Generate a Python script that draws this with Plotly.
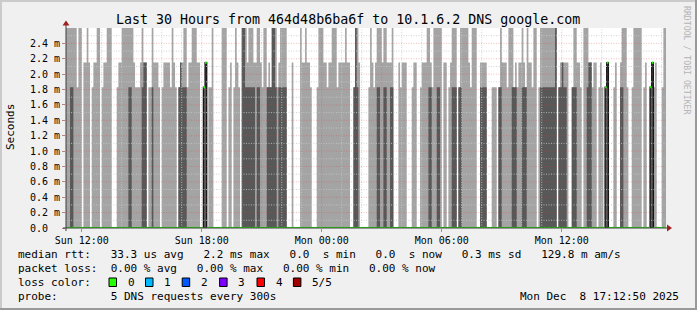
import plotly.graph_objects as go
from datetime import datetime, timedelta

# ---------------- data ----------------
title_text = "Last 30 Hours from 464d48b6ba6f to 10.1.6.2 DNS google.com"
view_start = "2025-12-07 11:12:50"
view_end = "2025-12-08 17:12:50"
first_step = "2025-12-07 11:10:00"
step_seconds = 300

# ping levels (ms) used by the codes below: 0 none, 1 ~1.83 ms, 2 ~2.15 ms, 3 off-scale
level_ms = [0.0, 1.83, 2.15, 2.9]

# highest ping per 5-minute step (outer smoke)
max_code = [
    3, 3, 3, 3, 3, 3, 3, 1, 3, 3, 0, 2, 2, 3, 2, 0, 1, 2, 2, 3,
    3, 0, 1, 2, 2, 3, 3, 3, 0, 0, 0, 1, 2, 2, 3, 3, 3, 3, 3, 3,
    3, 2, 1, 1, 1, 2, 3, 2, 2, 0, 1, 1, 3, 2, 2, 2, 1, 0, 1, 2,
    2, 2, 2, 1, 3, 2, 1, 0, 1, 2, 2, 3, 3, 1, 2, 2, 3, 3, 3, 2,
    2, 0, 0, 1, 2, 0, 1, 1, 3, 0, 0, 0, 0, 0, 3, 3, 3, 0, 1, 2,
    0, 1, 3, 2, 1, 0, 3, 3, 3, 2, 3, 3, 3, 2, 2, 3, 3, 2, 1, 3,
    3, 1, 2, 1, 3, 3, 3, 1, 2, 3, 3, 3, 3, 0, 0, 0, 2, 0, 0, 0,
    0, 3, 2, 2, 3, 2, 2, 1, 0, 0, 0, 1, 3, 3, 3, 2, 2, 1, 2, 2,
    3, 3, 3, 1, 2, 2, 2, 2, 3, 2, 2, 0, 0, 1, 3, 3, 2, 0, 0, 0,
    0, 0, 1, 3, 2, 1, 2, 3, 3, 3, 2, 3, 3, 2, 2, 2, 3, 0, 0, 0,
    2, 1, 2, 2, 2, 0, 0, 0, 1, 2, 2, 0, 0, 1, 2, 2, 2, 3, 3, 2,
    1, 3, 3, 3, 3, 3, 0, 2, 2, 0, 1, 2, 3, 3, 3, 0, 1, 3, 3, 3,
    3, 3, 2, 1, 3, 3, 3, 0, 0, 2, 2, 2, 2, 0, 0, 0, 1, 1, 1, 0,
    1, 3, 2, 2, 2, 1, 3, 3, 3, 1, 2, 1, 2, 2, 3, 2, 1, 3, 2, 2,
    1, 3, 3, 0, 1, 3, 3, 3, 3, 3, 3, 3, 3, 3, 3, 0, 1, 2, 2, 2,
    2, 2, 0, 0, 1, 3, 3, 2, 2, 1, 0, 3, 3, 3, 2, 2, 1, 2, 2, 0,
    1, 2, 1, 0, 1, 2, 0, 0, 0, 1, 2, 0, 0, 2, 3, 3, 3, 1, 0, 0,
    1, 3, 3, 3, 3, 3, 0, 1, 2, 0, 0, 1, 2, 1, 2, 0, 0, 0, 1, 3,
    3,
]

# 4th of 5 sorted pings per step (inner smoke)
p4_code = [
    0, 0, 0, 1, 1, 0, 0, 0, 0, 0, 0, 0, 0, 0, 0, 0, 0, 0, 0, 0,
    0, 0, 0, 0, 0, 0, 0, 0, 0, 0, 0, 0, 0, 0, 0, 0, 0, 0, 1, 1,
    0, 0, 0, 0, 0, 0, 1, 2, 2, 0, 0, 0, 1, 0, 0, 0, 0, 0, 0, 0,
    0, 0, 0, 0, 0, 0, 0, 0, 1, 2, 1, 1, 1, 0, 0, 0, 0, 0, 0, 0,
    0, 0, 0, 1, 2, 0, 0, 0, 0, 0, 0, 0, 0, 0, 0, 0, 0, 0, 0, 0,
    0, 0, 0, 0, 0, 0, 3, 3, 1, 1, 1, 1, 1, 1, 0, 1, 1, 0, 0, 0,
    0, 1, 1, 1, 3, 3, 1, 0, 1, 1, 1, 1, 1, 0, 0, 0, 0, 0, 0, 0,
    0, 0, 0, 0, 0, 0, 0, 0, 0, 0, 0, 0, 0, 0, 0, 0, 0, 0, 0, 0,
    0, 0, 0, 0, 0, 0, 0, 0, 0, 0, 0, 0, 0, 1, 3, 1, 0, 0, 0, 0,
    0, 0, 0, 0, 0, 0, 0, 1, 1, 0, 0, 1, 1, 0, 0, 1, 1, 0, 0, 0,
    0, 0, 0, 0, 0, 0, 0, 0, 0, 0, 0, 0, 0, 0, 0, 0, 0, 0, 1, 1,
    0, 0, 0, 1, 1, 0, 0, 0, 0, 0, 0, 0, 1, 1, 1, 0, 1, 1, 0, 0,
    0, 0, 0, 0, 0, 0, 0, 0, 0, 1, 1, 1, 1, 0, 0, 0, 0, 0, 0, 0,
    1, 1, 0, 0, 0, 0, 0, 0, 1, 1, 1, 0, 0, 0, 1, 1, 1, 0, 0, 0,
    0, 0, 0, 0, 0, 1, 1, 1, 1, 1, 1, 1, 1, 1, 3, 0, 1, 1, 2, 1,
    1, 0, 0, 0, 1, 1, 1, 0, 0, 0, 0, 0, 0, 1, 2, 2, 0, 0, 0, 0,
    0, 0, 0, 0, 1, 2, 0, 0, 0, 0, 0, 0, 0, 1, 1, 0, 0, 0, 0, 0,
    0, 0, 0, 0, 0, 0, 0, 0, 0, 0, 0, 1, 2, 0, 0, 0, 0, 0, 0, 0,
    0,
]

# median ping per step
median_code = [
    0, 0, 0, 0, 0, 0, 0, 0, 0, 0, 0, 0, 0, 0, 0, 0, 0, 0, 0, 0,
    0, 0, 0, 0, 0, 0, 0, 0, 0, 0, 0, 0, 0, 0, 0, 0, 0, 0, 0, 0,
    0, 0, 0, 0, 0, 0, 0, 0, 0, 0, 0, 0, 0, 0, 0, 0, 0, 0, 0, 0,
    0, 0, 0, 0, 0, 0, 0, 0, 0, 0, 0, 0, 0, 0, 0, 0, 0, 0, 0, 0,
    0, 0, 0, 1, 2, 0, 0, 0, 0, 0, 0, 0, 0, 0, 0, 0, 0, 0, 0, 0,
    0, 0, 0, 0, 0, 0, 0, 0, 0, 0, 0, 0, 0, 0, 0, 0, 0, 0, 0, 0,
    0, 0, 0, 0, 0, 0, 0, 0, 0, 0, 0, 0, 0, 0, 0, 0, 0, 0, 0, 0,
    0, 0, 0, 0, 0, 0, 0, 0, 0, 0, 0, 0, 0, 0, 0, 0, 0, 0, 0, 0,
    0, 0, 0, 0, 0, 0, 0, 0, 0, 0, 0, 0, 0, 0, 0, 0, 0, 0, 0, 0,
    0, 0, 0, 0, 0, 0, 0, 0, 0, 0, 0, 0, 0, 0, 0, 0, 0, 0, 0, 0,
    0, 0, 0, 0, 0, 0, 0, 0, 0, 0, 0, 0, 0, 0, 0, 0, 0, 0, 0, 0,
    0, 0, 0, 0, 0, 0, 0, 0, 0, 0, 0, 0, 0, 0, 0, 0, 0, 0, 0, 0,
    0, 0, 0, 0, 0, 0, 0, 0, 0, 0, 0, 0, 0, 0, 0, 0, 0, 0, 0, 0,
    0, 0, 0, 0, 0, 0, 0, 0, 0, 0, 0, 0, 0, 0, 0, 0, 0, 0, 0, 0,
    0, 0, 0, 0, 0, 0, 0, 0, 0, 0, 0, 0, 0, 0, 0, 0, 0, 0, 0, 0,
    0, 0, 0, 0, 0, 0, 0, 0, 0, 0, 0, 0, 0, 0, 0, 0, 0, 0, 0, 0,
    0, 0, 0, 0, 1, 2, 0, 0, 0, 0, 0, 0, 0, 0, 0, 0, 0, 0, 0, 0,
    0, 0, 0, 0, 0, 0, 0, 0, 0, 0, 0, 1, 2, 0, 0, 0, 0, 0, 0, 0,
    0,
]

y_tick_ms = [0.0, 0.2, 0.4, 0.6, 0.8, 1.0, 1.2, 1.4, 1.6, 1.8, 2.0, 2.2, 2.4]
y_tick_text = ["0.0\u00a0\u00a0", "0.2 m", "0.4 m", "0.6 m", "0.8 m", "1.0 m", "1.2 m",
               "1.4 m", "1.6 m", "1.8 m", "2.0 m", "2.2 m", "2.4 m"]
y_top_ms = 2.6
x_tick_times = ["2025-12-07 12:00", "2025-12-07 18:00", "2025-12-08 00:00",
                "2025-12-08 06:00", "2025-12-08 12:00"]
x_tick_text = ["Sun 12:00", "Sun 18:00", "Mon 00:00", "Mon 06:00", "Mon 12:00"]

legend_lines = [
    "median rtt:   33.3 us avg   2.2 ms max   0.0  s min   0.0  s now   0.3 ms sd   129.8 m am/s",
    "packet loss:  0.00 % avg   0.00 % max   0.00 % min   0.00 % now",
    "loss color:",
    "probe:        5 DNS requests every 300s",
]
loss_labels = ["0", "1", "2", "3", "4", "5/5"]
loss_colors = ["#26ff00", "#00b8ff", "#0059ff", "#7e00ff", "#ff0000", "#a10000"]
stamp_text = "Mon Dec  8 17:12:50 2025"
watermark = "RRDTOOL / TOBI OETIKER"

# ---------------- figure ----------------
FONT = "DejaVu Sans Mono"
W, H = 697, 310
L, R, T, B = 66, 666, 28, 228   # plot area in pixels


def px(x):
    return (x - L) / (R - L)


def py(y):
    return (B - y) / (B - T)


def nb(s):
    return s.replace(" ", "\u00a0")


t0 = datetime.strptime(first_step, "%Y-%m-%d %H:%M:%S")
n = len(max_code)
edges = [t0 + timedelta(seconds=step_seconds * i) for i in range(n + 1)]


def step_series(codes):
    ys = [level_ms[c] * 1e-3 for c in codes]
    return ys + [ys[-1]]


fig = go.Figure()

# outer smoke (min..max)
fig.add_trace(go.Scatter(x=edges, y=step_series(max_code), mode="lines",
                         line=dict(shape="hv", width=0, color="#a4a4a4"),
                         fill="tozeroy", fillcolor="#a4a4a4", hoverinfo="skip"))
# inner smoke
fig.add_trace(go.Scatter(x=edges, y=step_series(p4_code), mode="lines",
                         line=dict(shape="hv", width=0, color="#585858"),
                         fill="tozeroy", fillcolor="#585858", hoverinfo="skip"))
# median line
fig.add_trace(go.Scatter(x=edges, y=step_series(median_code), mode="lines",
                         line=dict(shape="hv", width=1.3, color="#141414"),
                         hoverinfo="skip"))

# grid (drawn above the smoke, like rrdtool)
vs = datetime.strptime(view_start, "%Y-%m-%d %H:%M:%S")
ve = datetime.strptime(view_end, "%Y-%m-%d %H:%M:%S")
hour = vs.replace(minute=0, second=0) + timedelta(hours=1)
minor_x, minor_y, major_x, major_y = [], [], [], []
while hour < ve:
    if hour.hour % 3 == 0:
        major_x += [hour, hour, None]
        major_y += [0, y_top_ms * 1e-3, None]
    else:
        minor_x += [hour, hour, None]
        minor_y += [0, y_top_ms * 1e-3, None]
    hour += timedelta(hours=1)
for k in range(1, 26):
    v = k * 0.1e-3
    if k % 2 == 0:
        major_x += [vs, ve, None]
        major_y += [v, v, None]
    else:
        minor_x += [vs, ve, None]
        minor_y += [v, v, None]
fig.add_trace(go.Scatter(x=minor_x, y=minor_y, mode="lines",
                         line=dict(color="rgba(200,200,200,0.8)", width=1, dash="1px,1.5px"),
                         hoverinfo="skip"))
fig.add_trace(go.Scatter(x=major_x, y=major_y, mode="lines",
                         line=dict(color="rgba(230,60,60,0.33)", width=1, dash="1px,1.5px"),
                         hoverinfo="skip"))

# loss-coloured median marks (0 % loss -> green)
gx, gy = [], []
for i, c in enumerate(median_code):
    v = level_ms[c] * 1e-3
    gx += [edges[i], edges[i + 1], None]
    gy += [v, v, None]
fig.add_trace(go.Scatter(x=gx, y=gy, mode="lines",
                         line=dict(color=loss_colors[0], width=2.2), hoverinfo="skip"))

shapes = []
# 3D frame
shapes.append(dict(type="rect", xref="paper", yref="paper", x0=px(0), x1=px(W), y0=py(0), y1=py(2),
                   fillcolor="#cbcbcb", line=dict(width=0), layer="above"))
shapes.append(dict(type="rect", xref="paper", yref="paper", x0=px(0), x1=px(2), y0=py(0), y1=py(H),
                   fillcolor="#cbcbcb", line=dict(width=0), layer="above"))
shapes.append(dict(type="rect", xref="paper", yref="paper", x0=px(0), x1=px(W), y0=py(H - 2), y1=py(H),
                   fillcolor="#999999", line=dict(width=0), layer="above"))
shapes.append(dict(type="rect", xref="paper", yref="paper", x0=px(W - 2), x1=px(W), y0=py(0), y1=py(H),
                   fillcolor="#999999", line=dict(width=0), layer="above"))
# axes with arrows
AX = "#3c3c3c"
shapes.append(dict(type="line", xref="paper", yref="paper", x0=px(63), x1=px(668), y0=0, y1=0,
                   line=dict(color=AX, width=1), layer="above"))
shapes.append(dict(type="line", xref="paper", yref="paper", x0=0, x1=0, y0=py(231), y1=py(24),
                   line=dict(color=AX, width=1), layer="above"))
shapes.append(dict(type="path", xref="paper", yref="paper",
                   path=f"M {px(667)} {py(224.5)} L {px(667)} {py(231.5)} L {px(672)} {py(228)} Z",
                   fillcolor="#a02020", line=dict(width=0), layer="above"))
shapes.append(dict(type="path", xref="paper", yref="paper",
                   path=f"M {px(62.5)} {py(25.5)} L {px(69.5)} {py(25.5)} L {px(66)} {py(20.5)} Z",
                   fillcolor="#a02020", line=dict(width=0), layer="above"))

annotations = []
annotations.append(dict(text=title_text, x=px(347.7), y=py(19), xref="paper", yref="paper",
                        xanchor="center", yanchor="middle", showarrow=False,
                        font=dict(family=FONT, size=13.3, color="#000")))
annotations.append(dict(text="Seconds", x=px(10.5), y=py(127.5), xref="paper", yref="paper",
                        xanchor="center", yanchor="middle", showarrow=False, textangle=-90,
                        font=dict(family=FONT, size=11, color="#000")))
annotations.append(dict(text=nb(watermark), x=px(687), y=py(60), xref="paper", yref="paper",
                        xanchor="center", yanchor="middle", showarrow=False, textangle=90,
                        font=dict(family=FONT, size=8.2, color="#b4b4b4")))
line_y = [254.5, 268, 282, 296]
for txt, yy in zip(legend_lines, line_y):
    annotations.append(dict(text=nb(txt), x=px(16), y=py(yy), xref="paper", yref="paper",
                            xanchor="left", yanchor="middle", showarrow=False,
                            font=dict(family=FONT, size=11, color="#000")))
annotations.append(dict(text=nb(stamp_text), x=px(681), y=py(296), xref="paper", yref="paper",
                        xanchor="right", yanchor="middle", showarrow=False,
                        font=dict(family=FONT, size=11, color="#000")))
box_left = [109.0, 145.5, 182.2, 219.6, 257.0, 293.4]
for lbl, col, bx in zip(loss_labels, loss_colors, box_left):
    shapes.append(dict(type="rect", xref="paper", yref="paper", x0=px(bx), x1=px(bx + 7.5),
                       y0=py(286.5), y1=py(278), fillcolor=col, line=dict(color="#000", width=1),
                       layer="above"))
    annotations.append(dict(text=lbl, x=px(bx + 16.8), y=py(282), xref="paper", yref="paper",
                            xanchor="left", yanchor="middle", showarrow=False,
                            font=dict(family=FONT, size=11, color="#000")))

fig.update_layout(
    width=W, height=H,
    margin=dict(l=L, r=W - R, t=T, b=H - B, pad=0),
    paper_bgcolor="#f0f0f0", plot_bgcolor="#ffffff",
    showlegend=False,
    font=dict(family=FONT, size=10, color="#000"),
    shapes=shapes, annotations=annotations,
)
fig.update_xaxes(
    type="date", range=[view_start, view_end],
    tickmode="array", tickvals=x_tick_times, ticktext=x_tick_text,
    ticks="outside", ticklen=3, tickcolor="#c08080", tickfont=dict(family=FONT, size=10),
    showgrid=False, zeroline=False, showline=False, fixedrange=True,
)
fig.update_yaxes(
    range=[0, y_top_ms * 1e-3],
    tickmode="array", tickvals=[v * 1e-3 for v in y_tick_ms], ticktext=y_tick_text,
    ticks="outside", ticklen=3, tickcolor="#c08080", tickfont=dict(family=FONT, size=10),
    showgrid=False, zeroline=False, showline=False, fixedrange=True,
)

fig.write_html("out.html")
